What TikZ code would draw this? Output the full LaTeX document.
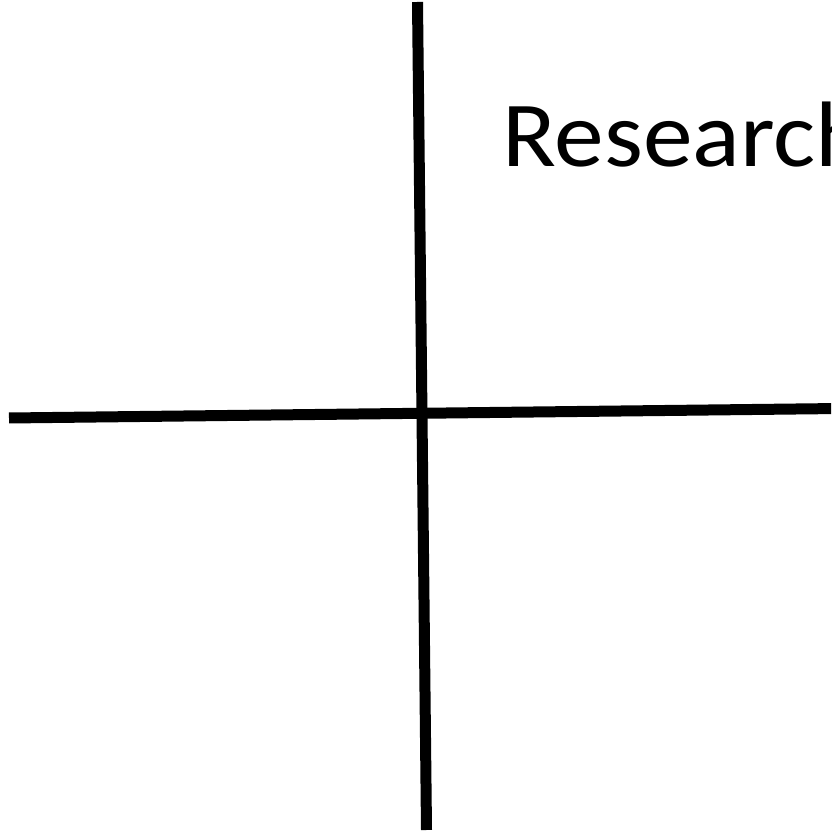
\documentclass[tikz,border=0pt]{standalone}
\usepackage{fontspec}
\setmainfont{Carlito}
\begin{document}
\begin{tikzpicture}[x=1pt,y=1pt,
  axisline/.style={line width=11pt, black},
  title/.style={font=\fontsize{93}{110}\selectfont, inner sep=0pt, anchor=base west, xscale=1.07}]
\useasboundingbox (0,0) rectangle (831,836);
\clip (0,0) rectangle (831,836);
\coordinate (vtop) at (417.5,834);
\coordinate (vbot) at (426.5,6);
\coordinate (hleft) at (9,418);
\coordinate (hright) at (840,427.5);
\draw[axisline] (vtop) -- (vbot);
\draw[axisline] (hleft) -- (hright);
\node[title] (t) at (502,669) {Research};
\end{tikzpicture}
\end{document}
